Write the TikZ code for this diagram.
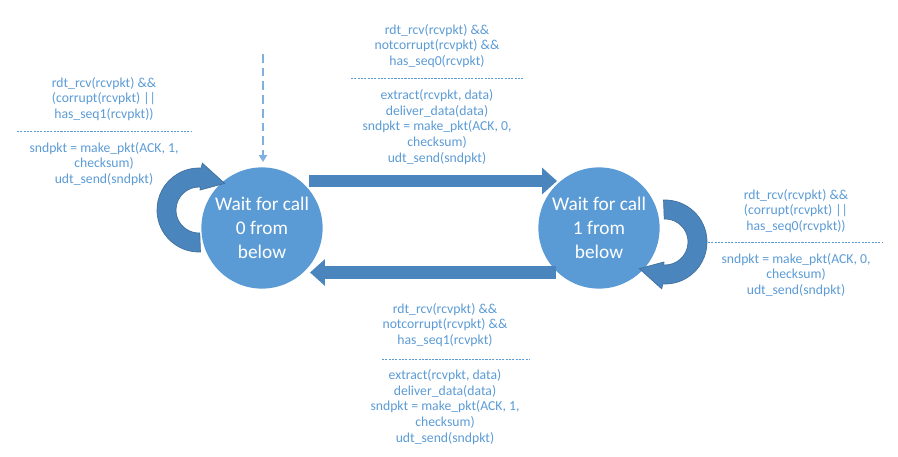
\documentclass[tikz,border=0pt]{standalone}
\usepackage{fontspec}
\setmainfont{Carlito}
\usetikzlibrary{arrows.meta,calc}
\definecolor{stateblue}{HTML}{5B9BD5}
\definecolor{arrowblue}{HTML}{4A85BD}
\definecolor{edgeline}{HTML}{41719C}
\definecolor{initblue}{HTML}{7FB0DF}
\begin{document}
\begin{tikzpicture}[x=0.02cm,y=-0.02cm]
	\tikzstyle{state}=[circle,fill=stateblue,text=white,minimum size=69pt,inner sep=0pt,align=center,font=\fontsize{11}{13.6}\selectfont]
	\tikzstyle{fsmtext}=[text=stateblue,align=center,inner sep=0pt,font=\fontsize{7.8}{9.05}\selectfont]
	\tikzstyle{edge}=[draw=arrowblue,line width=7.1pt,-{Triangle[length=8.5pt,width=14.7pt]}]
	\tikzstyle{init}=[draw=initblue,line width=1.1pt,dash pattern=on 5pt off 2.8pt,-{Triangle[length=4pt,width=4.6pt]}]
	\tikzstyle{loopband}=[fill=arrowblue,draw=edgeline,line width=0.4pt]
	\tikzstyle{sep}=[draw=stateblue,line width=0.4pt,dash pattern=on 1.2pt off 0.7pt]

	\useasboundingbox (0,0) rectangle (898,456);

	 \node [state] (w0) at (262,228) {Wait for call\\0 from\\below};
	 \node [state] (w1) at (599,228) {Wait for call\\1 from\\below};
	 \coordinate (start) at (263,54);

	 % self loops
	 \begin{scope}[shift={(199,210)}]
	   \path[loopband] (88:42) arc[start angle=88,end angle=273,radius=42] -- (274:47) -- (314:37) -- (273:20) -- (273:23) arc[start angle=273,end angle=88,radius=23] -- cycle;
	 \end{scope}
	 \begin{scope}[shift={(665,242)},rotate=180]
	   \path[loopband] (88:42) arc[start angle=88,end angle=273,radius=42] -- (274:47) -- (314:37) -- (273:20) -- (273:23) arc[start angle=273,end angle=88,radius=23] -- cycle;
	 \end{scope}

	 \path[edge] ($(w0)+(47,-47)$) -- ($(w1)+(-42,-47)$);
	 \path[edge] ($(w1)+(-43,44.5)$) -- ($(w0)+(48,44.5)$);
	 \path[init] (start) -- ($(w0.north)+(1,-5)$);

	 % transition labels
	 \node [fsmtext] (g01) at (437,46) {rdt\_rcv(rcvpkt) \&\&\\notcorrupt(rcvpkt) \&\&\\has\_seq0(rcvpkt)};
	 \node [fsmtext] (a01) at (437,127) {extract(rcvpkt, data)\\deliver\_data(data)\\sndpkt = make\_pkt(ACK, 0,\\checksum)\\udt\_send(sndpkt)};
	 \draw[sep] (351,78) -- (523,78);

	 \node [fsmtext] (g10) at (445,325) {rdt\_rcv(rcvpkt) \&\&\\notcorrupt(rcvpkt) \&\&\\has\_seq1(rcvpkt)};
	 \node [fsmtext] (a10) at (445,407) {extract(rcvpkt, data)\\deliver\_data(data)\\sndpkt = make\_pkt(ACK, 1,\\checksum)\\udt\_send(sndpkt)};
	 \draw[sep] (382,359) -- (530,359);

	 \node [fsmtext] (g00) at (104,99) {rdt\_rcv(rcvpkt) \&\&\\(corrupt(rcvpkt) ||\\has\_seq1(rcvpkt))};
	 \node [fsmtext] (a00) at (104,164) {sndpkt = make\_pkt(ACK, 1,\\checksum)\\udt\_send(sndpkt)};
	 \draw[sep] (17,131) -- (191,131);

	 \node [fsmtext] (g11) at (796,211) {rdt\_rcv(rcvpkt) \&\&\\(corrupt(rcvpkt) ||\\has\_seq0(rcvpkt))};
	 \node [fsmtext] (a11) at (796,275) {sndpkt = make\_pkt(ACK, 0,\\checksum)\\udt\_send(sndpkt)};
	 \draw[sep] (708,242) -- (882,242);

\end{tikzpicture}
\end{document}
